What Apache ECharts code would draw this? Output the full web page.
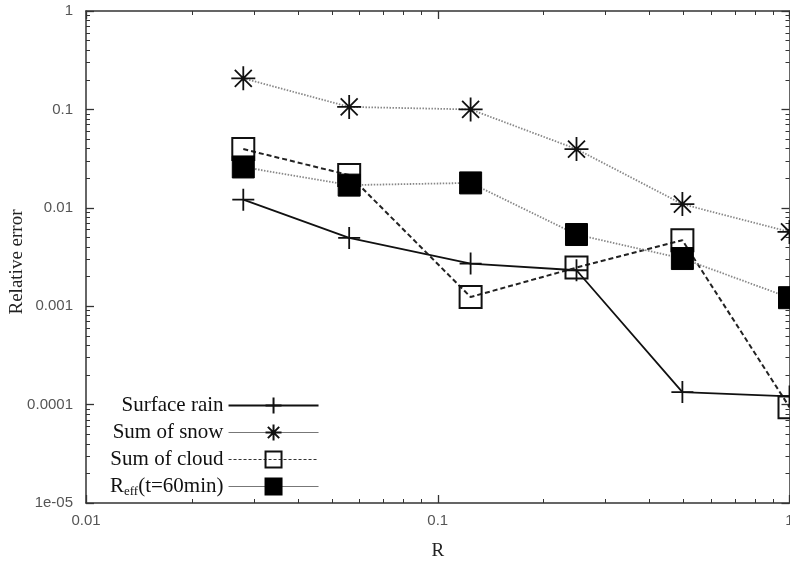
<!DOCTYPE html>
<html>
<head>
<meta charset="utf-8">
<script src="https://cdn.jsdelivr.net/npm/echarts@6/dist/echarts.min.js"></script>
<style>
  html, body { margin: 0; padding: 0; background: #fff; }
  #chart { width: 790px; height: 561px; }
</style>
</head>
<body>
<div id="chart"></div>
<script>
// Sample spacing R and relative errors of each diagnosed quantity
const rValues     = [0.028, 0.056, 0.124, 0.248, 0.496, 1.0];
const surfaceRain = [0.0121, 0.00494, 0.00271, 0.00232, 0.000134, 0.000121];
const sumOfSnow   = [0.207, 0.106, 0.0999, 0.0395, 0.0109, 0.00569];
const sumOfCloud  = [0.0395, 0.0215, 0.00124, 0.00247, 0.00468, 0.0000942];
const rEff60      = [0.026, 0.017, 0.0179, 0.00535, 0.00305, 0.00122];

const seriesNames = ['Surface rain', 'Sum of snow', 'Sum of cloud', 'Reff(t=60min)'];

// Decade tick labels (log axes)
const xTickLabels = ['0.01', '0.1', '1'];                               // 10^-2 .. 10^0
const yTickLabels = ['1e-05', '0.0001', '0.001', '0.01', '0.1', '1'];   // 10^-5 .. 10^0

// Minor ticks at 2..9 within each decade
function minorTicks(lowExp, highExp) {
  const out = [];
  for (let e = lowExp; e < highExp; e++) {
    for (let k = 2; k <= 9; k++) out.push(k * Math.pow(10, e));
  }
  return out;
}
const xMinor = minorTicks(-2, 0);
const yMinor = minorTicks(-5, 0);

const pair = (xs, ys) => xs.map((x, i) => [x, ys[i]]);

const SYM_PLUS = 'path://M0,10 L20,10 M10,0 L10,20';
const SYM_STAR = 'path://M0,10 L20,10 M10,0 L10,20 M2.93,2.93 L17.07,17.07 M17.07,2.93 L2.93,17.07';
const SYM_OPEN = 'path://M0,0 L20,0 L20,20 L0,20 Z';

const frame = { show: true, onZero: false, lineStyle: { color: '#333', width: 1.5 } };
const tickFont = { fontFamily: 'Liberation Sans', fontSize: 15, color: '#555' };
const nameFont = { fontFamily: 'Liberation Serif', fontSize: 19, color: '#222' };

function xAxisDef(pos, minor) {
  return {
    type: 'log', logBase: 10, min: 0.01, max: 1, position: pos,
    axisLine: minor ? { show: false } : frame,
    axisTick: minor
      ? { show: true, inside: true, length: 4, lineStyle: { color: '#333', width: 1 }, customValues: xMinor }
      : { show: true, inside: true, length: 8, lineStyle: { color: '#333', width: 1.3 } },
    axisLabel: (pos === 'bottom' && !minor) ? Object.assign({
      margin: 10,
      formatter: v => xTickLabels[Math.round(Math.log10(v)) + 2]
    }, tickFont) : { show: false },
    splitLine: { show: false }, minorTick: { show: false }
  };
}
function yAxisDef(pos, minor) {
  return {
    type: 'log', logBase: 10, min: 1e-5, max: 1, position: pos,
    axisLine: minor ? { show: false } : frame,
    axisTick: minor
      ? { show: true, inside: true, length: 4, lineStyle: { color: '#333', width: 1 }, customValues: yMinor }
      : { show: true, inside: true, length: 8, lineStyle: { color: '#333', width: 1.3 } },
    axisLabel: (pos === 'left' && !minor) ? Object.assign({
      margin: 13,
      formatter: v => yTickLabels[Math.round(Math.log10(v)) + 5]
    }, tickFont) : { show: false },
    splitLine: { show: false }, minorTick: { show: false }
  };
}

const xAxes = [xAxisDef('bottom', false), xAxisDef('top', false), xAxisDef('bottom', true), xAxisDef('top', true)];
xAxes[0].name = 'R';
xAxes[0].nameLocation = 'middle';
xAxes[0].nameGap = 39;
xAxes[0].nameMoveOverlap = false;
xAxes[0].nameTextStyle = nameFont;

const yAxes = [yAxisDef('left', false), yAxisDef('right', false), yAxisDef('left', true), yAxisDef('right', true)];
yAxes[0].name = 'Relative error';
yAxes[0].nameLocation = 'middle';
yAxes[0].nameGap = 59;
yAxes[0].nameMoveOverlap = false;
yAxes[0].nameTextStyle = Object.assign({ padding: [0, 10, 0, 0] }, nameFont);

const chart = echarts.init(document.getElementById('chart'), null, { renderer: 'canvas' });
chart.setOption({
  animation: false,
  backgroundColor: '#fff',
  grid: { left: 86, right: 0.5, top: 11, bottom: 58, outerBoundsMode: 'none', containLabel: false },
  xAxis: xAxes,
  yAxis: yAxes,
  legend: {
    orient: 'vertical', align: 'right',
    left: 105, top: 390,
    itemWidth: 90, itemHeight: 20, itemGap: 6,
    selectedMode: false,
    textStyle: {
      fontFamily: 'Liberation Serif', fontSize: 21, color: '#111',
      rich: { sub: { fontFamily: 'Liberation Serif', fontSize: 13, color: '#111', verticalAlign: 'bottom', padding: [10, 0, 0, 0] } }
    },
    formatter: name => name === seriesNames[3] ? 'R{sub|eff}(t=60min)' : name,
    data: [
      { name: seriesNames[0] },
      { name: seriesNames[1], lineStyle: { type: 'solid', width: 1.2, color: '#777' } },
      { name: seriesNames[2], lineStyle: { type: [3, 2], width: 1.2, color: '#333' } },
      { name: seriesNames[3], lineStyle: { type: 'solid', width: 1.2, color: '#777' } }
    ]
  },
  series: [
    {
      name: seriesNames[0], type: 'line', data: pair(rValues, surfaceRain),
      symbol: SYM_PLUS, symbolSize: 22, z: 2,
      lineStyle: { color: '#111', width: 1.8, type: 'solid' },
      itemStyle: { color: 'rgba(0,0,0,0)', borderColor: '#111', borderWidth: 1.8 }
    },
    {
      name: seriesNames[1], type: 'line', data: pair(rValues, sumOfSnow),
      symbol: SYM_STAR, symbolSize: 24, z: 3,
      lineStyle: { color: '#888', width: 1.8, type: [1.5, 1.5] },
      itemStyle: { color: 'rgba(0,0,0,0)', borderColor: '#111', borderWidth: 1.8 }
    },
    {
      name: seriesNames[2], type: 'line', data: pair(rValues, sumOfCloud),
      symbol: SYM_OPEN, symbolSize: 22, z: 4,
      lineStyle: { color: '#222', width: 2, type: [5, 3] },
      itemStyle: { color: 'rgba(0,0,0,0)', borderColor: '#111', borderWidth: 2 }
    },
    {
      name: seriesNames[3], type: 'line', data: pair(rValues, rEff60),
      symbol: 'rect', symbolSize: 22, z: 5,
      lineStyle: { color: '#888', width: 1.8, type: [1.5, 1.5] },
      itemStyle: { color: '#000', borderColor: '#000', borderWidth: 1 }
    }
  ]
});
</script>
</body>
</html>
